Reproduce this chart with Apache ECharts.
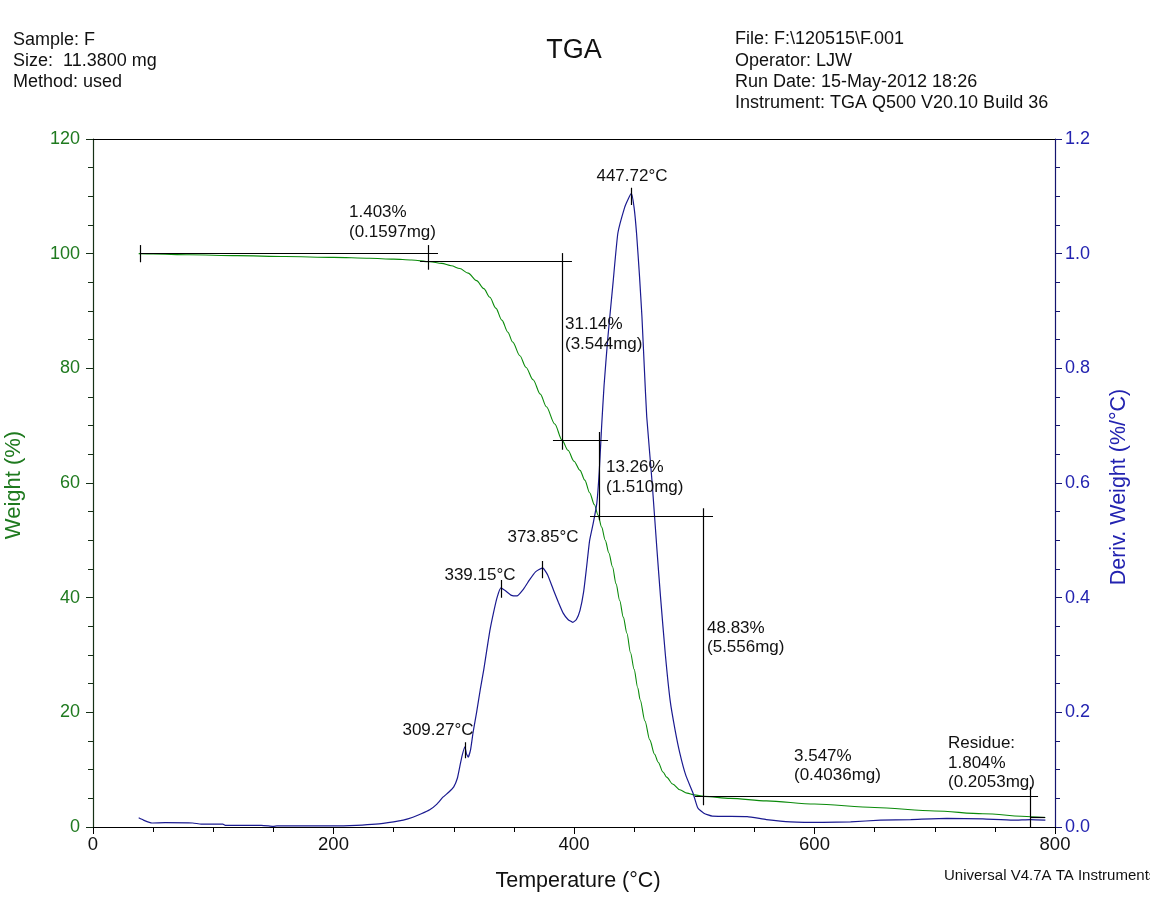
<!DOCTYPE html>
<html>
<head>
<meta charset="utf-8">
<script src="https://cdn.jsdelivr.net/npm/echarts@6/dist/echarts.min.js"></script>
<style>
html,body{margin:0;padding:0;background:#fff;}
#chart{width:1150px;height:901px;}
</style>
</head>
<body>
<div id="chart"></div>
<script>
// Temperature (°C) vs Weight (%)
var weightT = [38,50,80,120,160,200,230,250,265,280,290,298,305,312,319,325,330,335,340,345,349,355,360,366,372,377,384,390,395,400,405,409,413,417,420,423,426,429,432,435,438,441,444,447,450,453,455,459,463,467,470,474,477,482,488,494,500,508,530,560,600,650,700,740,780,792];
var weightW = [100.0,99.95,99.8,99.65,99.5,99.35,99.2,99.05,98.9,98.6,98.3,97.9,97.4,96.6,95.3,93.9,92.4,90.5,88.4,86.3,84.6,82.2,80.2,78.0,75.5,73.3,70.3,67.5,65.7,63.8,62.2,60.5,58.3,56.2,54.4,52.3,50.0,47.8,45.4,42.4,39.5,36.6,33.8,30.4,27.5,24.3,22.2,18.5,15.2,12.7,11.3,9.6,8.7,7.5,6.5,5.9,5.6,5.35,5.0,4.55,4.0,3.4,2.8,2.3,1.8,1.65];

// Temperature (°C) vs Deriv. Weight (%/°C)
var derivT = [38,42,49,60,83,90,108,110,140,146,150,153,200,219,235,250,258,266,273,280,286,291,296,300,303,305,307,309.3,310.5,312,314,316,319,322,325,327.5,330,333,336,339.2,343,348,352.5,358,363,368,373.9,378,383,387,391,395,399,402,405,408,410.5,413,416,419,421,423,425,428,432.5,436.5,442,445,447.7,450,452,454.5,456.5,458.5,460.5,465,469,472,476,480,484,488,493,499,503,508,515,544,560,580,607,630,655,680,710,740,765,780,792];
var derivD = [0.016,0.012,0.007,0.0075,0.007,0.005,0.005,0.003,0.003,0.002,0.001,0.002,0.002,0.003,0.005,0.009,0.012,0.017,0.023,0.030,0.040,0.052,0.061,0.070,0.085,0.105,0.125,0.140,0.128,0.122,0.135,0.164,0.200,0.239,0.275,0.309,0.342,0.373,0.400,0.417,0.412,0.404,0.403,0.415,0.431,0.445,0.452,0.440,0.413,0.392,0.373,0.362,0.357,0.362,0.378,0.410,0.454,0.500,0.530,0.565,0.620,0.700,0.770,0.850,0.950,1.036,1.080,1.095,1.105,1.080,1.036,0.960,0.890,0.800,0.715,0.600,0.483,0.400,0.300,0.220,0.170,0.129,0.090,0.059,0.033,0.024,0.019,0.018,0.013,0.009,0.008,0.009,0.012,0.013,0.015,0.014,0.012,0.013,0.012];

// Step-transition construction lines on the weight scale: [T1, W1, T2, W2]
var stepLines = [
  [39.1,100.0,286.9,100.0],
  [39.1,101.5,39.1,98.5],
  [278.6,101.5,278.6,97.2],
  [272,98.6,398.3,98.6],
  [390.0,100.1,390.0,65.8],
  [382.5,67.46,428.3,67.46],
  [420.8,68.9,420.8,53.5],
  [413.3,54.2,515.6,54.2],
  [507.6,55.6,507.6,3.8],
  [500.6,5.37,785.9,5.37],
  [779.2,7.0,779.2,0.0],
  [779.2,1.75,791.7,1.75]
];
// Peak marker ticks on the derivative scale: [T, D1, D2]
var peakTicks = [
  [309.27,0.148,0.120],
  [339.15,0.431,0.400],
  [373.85,0.464,0.434],
  [447.72,1.115,1.085]
];

var xTicks = [0,200,400,600,800];
var wTicks = [0,20,40,60,80,100,120];
var dTicks = [0.0,0.2,0.4,0.6,0.8,1.0,1.2];

var GREEN = '#0a8a0a', GREEN_TXT = '#1f7a1f';
var BLUE = '#1a1a90', BLUE_TXT = '#2323b0';
var FONT = '"Liberation Sans", Arial, sans-serif';

function zip(a,b){ return a.map(function(v,i){ return [v,b[i]]; }); }

var chart = echarts.init(document.getElementById('chart'), null, {renderer:'canvas'});

function txt(t,x,y,opt){
  opt = opt || {};
  return {
    type:'text', x:x, y:y, rotation: opt.rot || 0, silent:true, z:100,
    style:{
      text:t, fill: opt.fill || '#111', font: (opt.size||15)+'px '+FONT,
      textAlign: opt.align || 'left', align: opt.align || 'left',
      textVerticalAlign:'middle', verticalAlign:'middle'
    }
  };
}

var H = 18, A = 17;
var graphics = [
  txt('Sample: F',13,40,{size:H}),
  txt('Size:  11.3800 mg',13,61,{size:H}),
  txt('Method: used',13,82,{size:H}),
  txt('TGA',574,51,{size:27,align:'center'}),
  txt('File: F:\\120515\\F.001',735,39,{size:H}),
  txt('Operator: LJW',735,61,{size:H}),
  txt('Run Date: 15-May-2012 18:26',735,82,{size:H}),
  txt('Instrument: TGA Q500 V20.10 Build 36',735,103,{size:H}),
  txt('Temperature (°C)',578,881,{size:21.5,align:'center'}),
  txt('Weight (%)',14,485,{size:22,align:'center',rot:Math.PI/2,fill:GREEN_TXT}),
  txt('Deriv. Weight (%/°C)',1119,487,{size:21.5,align:'center',rot:Math.PI/2,fill:BLUE_TXT}),
  txt('Universal V4.7A TA Instruments',944,876,{size:15}),
  txt('1.403%',349,212,{size:A}),
  txt('(0.1597mg)',349,232,{size:A}),
  txt('447.72°C',632,176,{size:A,align:'center'}),
  txt('31.14%',565,324,{size:A}),
  txt('(3.544mg)',565,344,{size:A}),
  txt('13.26%',606,467,{size:A}),
  txt('(1.510mg)',606,487,{size:A}),
  txt('373.85°C',543,537,{size:A,align:'center'}),
  txt('339.15°C',480,575,{size:A,align:'center'}),
  txt('309.27°C',438,730,{size:A,align:'center'}),
  txt('48.83%',707,628,{size:A}),
  txt('(5.556mg)',707,647,{size:A}),
  txt('3.547%',794,756,{size:A}),
  txt('(0.4036mg)',794,775,{size:A}),
  txt('Residue:',948,743,{size:A}),
  txt('1.804%',948,763,{size:A}),
  txt('(0.2053mg)',948,782,{size:A})
];

var option = {
  backgroundColor:'#fff',
  animation:false,
  grid:{left:93,right:95,top:139,bottom:74,containLabel:false},
  xAxis:[{
    type:'value', min:0, max:800, interval:200,
    axisLine:{show:true,onZero:false,lineStyle:{color:'#000',width:1.2}},
    axisTick:{show:true,inside:false,length:7,lineStyle:{color:'#000'}},
    minorTick:{show:true,splitNumber:4,length:5,lineStyle:{color:'#000'}},
    splitLine:{show:false},
    axisLabel:{color:'#111',fontSize:18.5,fontFamily:FONT,margin:8,
      formatter:function(v){ return xTicks.indexOf(v)>=0 ? String(v) : ''; }}
  },{
    type:'value', position:'top', min:0, max:800,
    axisLine:{show:true,onZero:false,lineStyle:{color:'#000',width:1.2}},
    axisTick:{show:false}, axisLabel:{show:false}, splitLine:{show:false}
  }],
  yAxis:[{
    type:'value', min:0, max:120, interval:20, position:'left',
    axisLine:{show:true,onZero:false,lineStyle:{color:'#163016',width:1.2}},
    axisTick:{show:true,inside:false,length:7,lineStyle:{color:'#163016'}},
    minorTick:{show:true,splitNumber:4,length:5,lineStyle:{color:'#163016'}},
    splitLine:{show:false},
    axisLabel:{color:GREEN_TXT,fontSize:18,fontFamily:FONT,margin:13,
      formatter:function(v){ return wTicks.indexOf(v)>=0 ? String(v) : ''; }}
  },{
    type:'value', min:0, max:1.2, interval:0.2, position:'right',
    axisLine:{show:true,onZero:false,lineStyle:{color:'#14146e',width:1.2}},
    axisTick:{show:true,inside:false,length:7,lineStyle:{color:'#14146e'}},
    minorTick:{show:true,splitNumber:4,length:5,lineStyle:{color:'#14146e'}},
    splitLine:{show:false},
    axisLabel:{color:BLUE_TXT,fontSize:18,fontFamily:FONT,margin:10,
      formatter:function(v){ return v.toFixed(1); }}
  }],
  series:[{
    name:'Weight', type:'line', xAxisIndex:0, yAxisIndex:0,
    data: zip(weightT, weightW), showSymbol:false, symbol:'none',
    smooth:0.3, smoothMonotone:'x',
    lineStyle:{color:GREEN,width:1.1}, z:3
  },{
    name:'Deriv. Weight', type:'line', xAxisIndex:0, yAxisIndex:1,
    data: zip(derivT, derivD), showSymbol:false, symbol:'none',
    smooth:0.15,
    lineStyle:{color:BLUE,width:1.2}, z:4
  },{
    name:'steps', type:'lines', coordinateSystem:'cartesian2d', xAxisIndex:0, yAxisIndex:0,
    data: stepLines.map(function(s){ return {coords:[[s[0],s[1]],[s[2],s[3]]]}; }),
    lineStyle:{color:'#000',width:1.2,opacity:1}, z:5, silent:true, clip:false
  },{
    name:'peaks', type:'lines', coordinateSystem:'cartesian2d', xAxisIndex:0, yAxisIndex:1,
    data: peakTicks.map(function(p){ return {coords:[[p[0],p[1]],[p[0],p[2]]]}; }),
    lineStyle:{color:'#000',width:1.2,opacity:1}, z:5, silent:true
  }],
  graphic: graphics
};
chart.setOption(option);
</script>
</body>
</html>
